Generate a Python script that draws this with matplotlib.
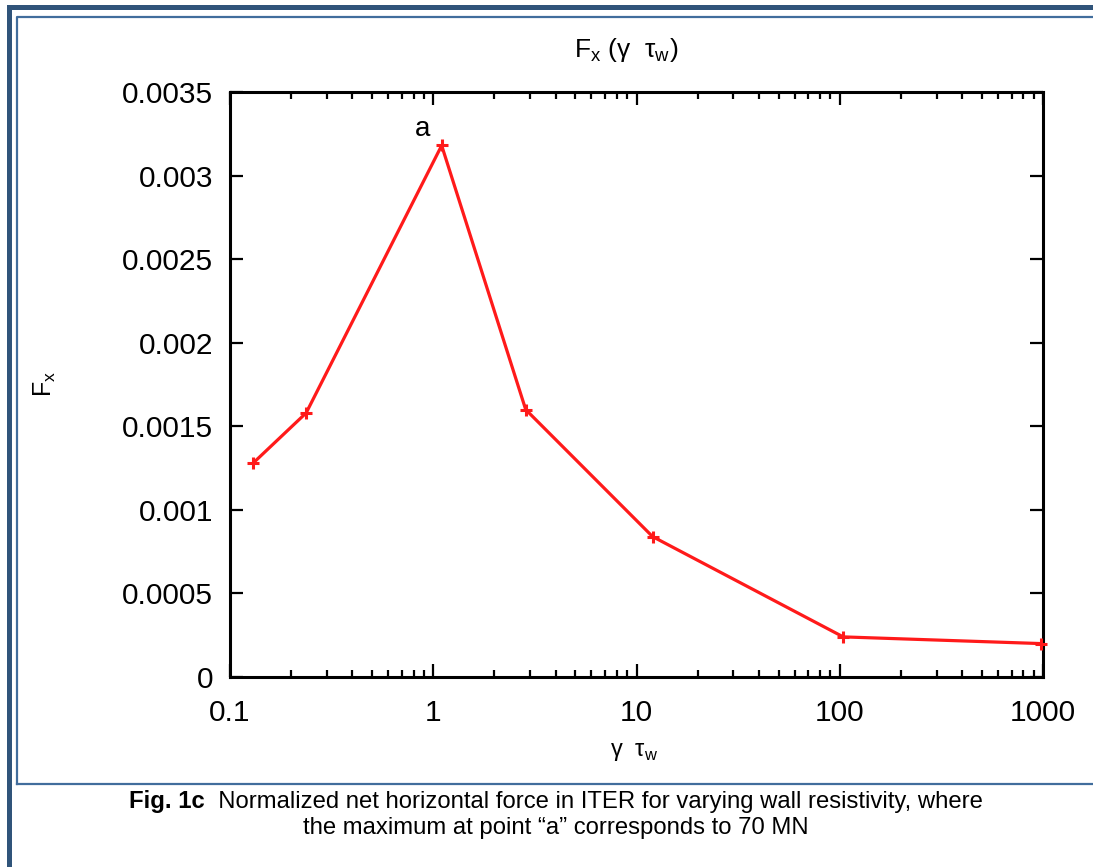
import matplotlib
matplotlib.use("Agg")
import matplotlib.pyplot as plt
from matplotlib.patches import Rectangle
from matplotlib.lines import Line2D
from matplotlib.ticker import LogLocator, NullFormatter

plt.rcParams['font.family'] = ['Liberation Sans', 'DejaVu Sans']
plt.rcParams['mathtext.fontset'] = 'custom'
plt.rcParams['mathtext.rm'] = 'Liberation Sans'

# data
gamma_tau = [0.13, 0.237, 1.1, 2.85, 12.0, 104, 975]
fx = [0.00128, 0.00158, 0.00318, 0.00160, 0.00084, 0.00024, 0.00020]

xticks = [0.1, 1, 10, 100, 1000]
xtick_labels = ["0.1", "1", "10", "100", "1000"]
yticks = [0, 0.0005, 0.001, 0.0015, 0.002, 0.0025, 0.003, 0.0035]
ytick_labels = ["0", "0.0005", "0.001", "0.0015", "0.002", "0.0025", "0.003", "0.0035"]

W, H = 1093, 867
fig = plt.figure(figsize=(W / 100, H / 100), dpi=100)


def fx_(px):
    return px / W


def fy_(py):
    return 1 - py / H


# page frames
navy = "#30547a"
fig.add_artist(Rectangle((fx_(8.5), fy_(900)), fx_(1200), fy_(6.5) - fy_(900),
                         transform=fig.transFigure, fill=False, ec=navy, lw=3.6))
frame = "#416d9c"
fig.add_artist(Line2D([fx_(17), fx_(17), fx_(1200)], [fy_(784), fy_(17), fy_(17)],
                      transform=fig.transFigure, color=frame, lw=1.6))
fig.add_artist(Line2D([fx_(17), fx_(1200)], [fy_(784), fy_(784)],
                      transform=fig.transFigure, color=frame, lw=1.6))

ax = fig.add_axes([fx_(230), fy_(677), fx_(1043 - 230), fy_(92) - fy_(677)])
ax.plot(gamma_tau, fx, color="#ff1a1a", lw=2.3, marker="+", ms=9, mew=2.2,
        clip_on=False, zorder=3)
ax.annotate("a", xy=(gamma_tau[2], fx[2]), xytext=(-19, 16),
            textcoords="offset pixels", ha="center", va="center", fontsize=20)

ax.set_xscale("log")
ax.set_xlim(0.1, 1000)
ax.set_ylim(0, 0.0035)
ax.set_xticks(xticks)
ax.set_xticklabels(xtick_labels)
ax.xaxis.set_minor_locator(LogLocator(base=10, subs=range(2, 10)))
ax.xaxis.set_minor_formatter(NullFormatter())
ax.set_yticks(yticks)
ax.set_yticklabels(ytick_labels)

for s in ax.spines.values():
    s.set_linewidth(2.2)
ax.tick_params(which="major", direction="in", top=True, right=True,
               length=9.5, width=1.6, labelsize=21.5, pad=12)
ax.tick_params(which="minor", direction="in", top=True, right=True,
               length=5, width=1.6)
ax.tick_params(axis="x", which="major", pad=16)

fig.text(fx_(626), fy_(50), r"F$_\mathregular{x}$ (γ  τ$_\mathregular{w}$)",
         ha="center", va="center", fontsize=19)
fig.text(fx_(634), fy_(752), r"γ  τ$_\mathregular{w}$",
         ha="center", va="center", fontsize=17)
fig.text(fx_(45), fy_(384), r"F$_\mathregular{x}$", rotation=90,
         ha="center", va="center", fontsize=18)

# caption: bold "Fig. 1c" followed by normal text, centred as one line
t1 = fig.text(0, fy_(808), "Fig. 1c", fontweight="bold", fontsize=17.2,
              ha="left", va="baseline")
t2 = fig.text(0, fy_(808),
              "  Normalized net horizontal force in ITER for varying wall resistivity, where",
              fontsize=17.2, ha="left", va="baseline")
r = fig.canvas.get_renderer()
w1 = t1.get_window_extent(r).width
w2 = t2.get_window_extent(r).width
x0 = 556 - (w1 + w2) / 2
t1.set_x(fx_(x0))
t2.set_x(fx_(x0 + w1))
fig.text(fx_(556), fy_(834), "the maximum at point \u201ca\u201d corresponds to 70 MN",
         ha="center", va="baseline", fontsize=17.2)

fig.savefig("out.png", dpi=100)
